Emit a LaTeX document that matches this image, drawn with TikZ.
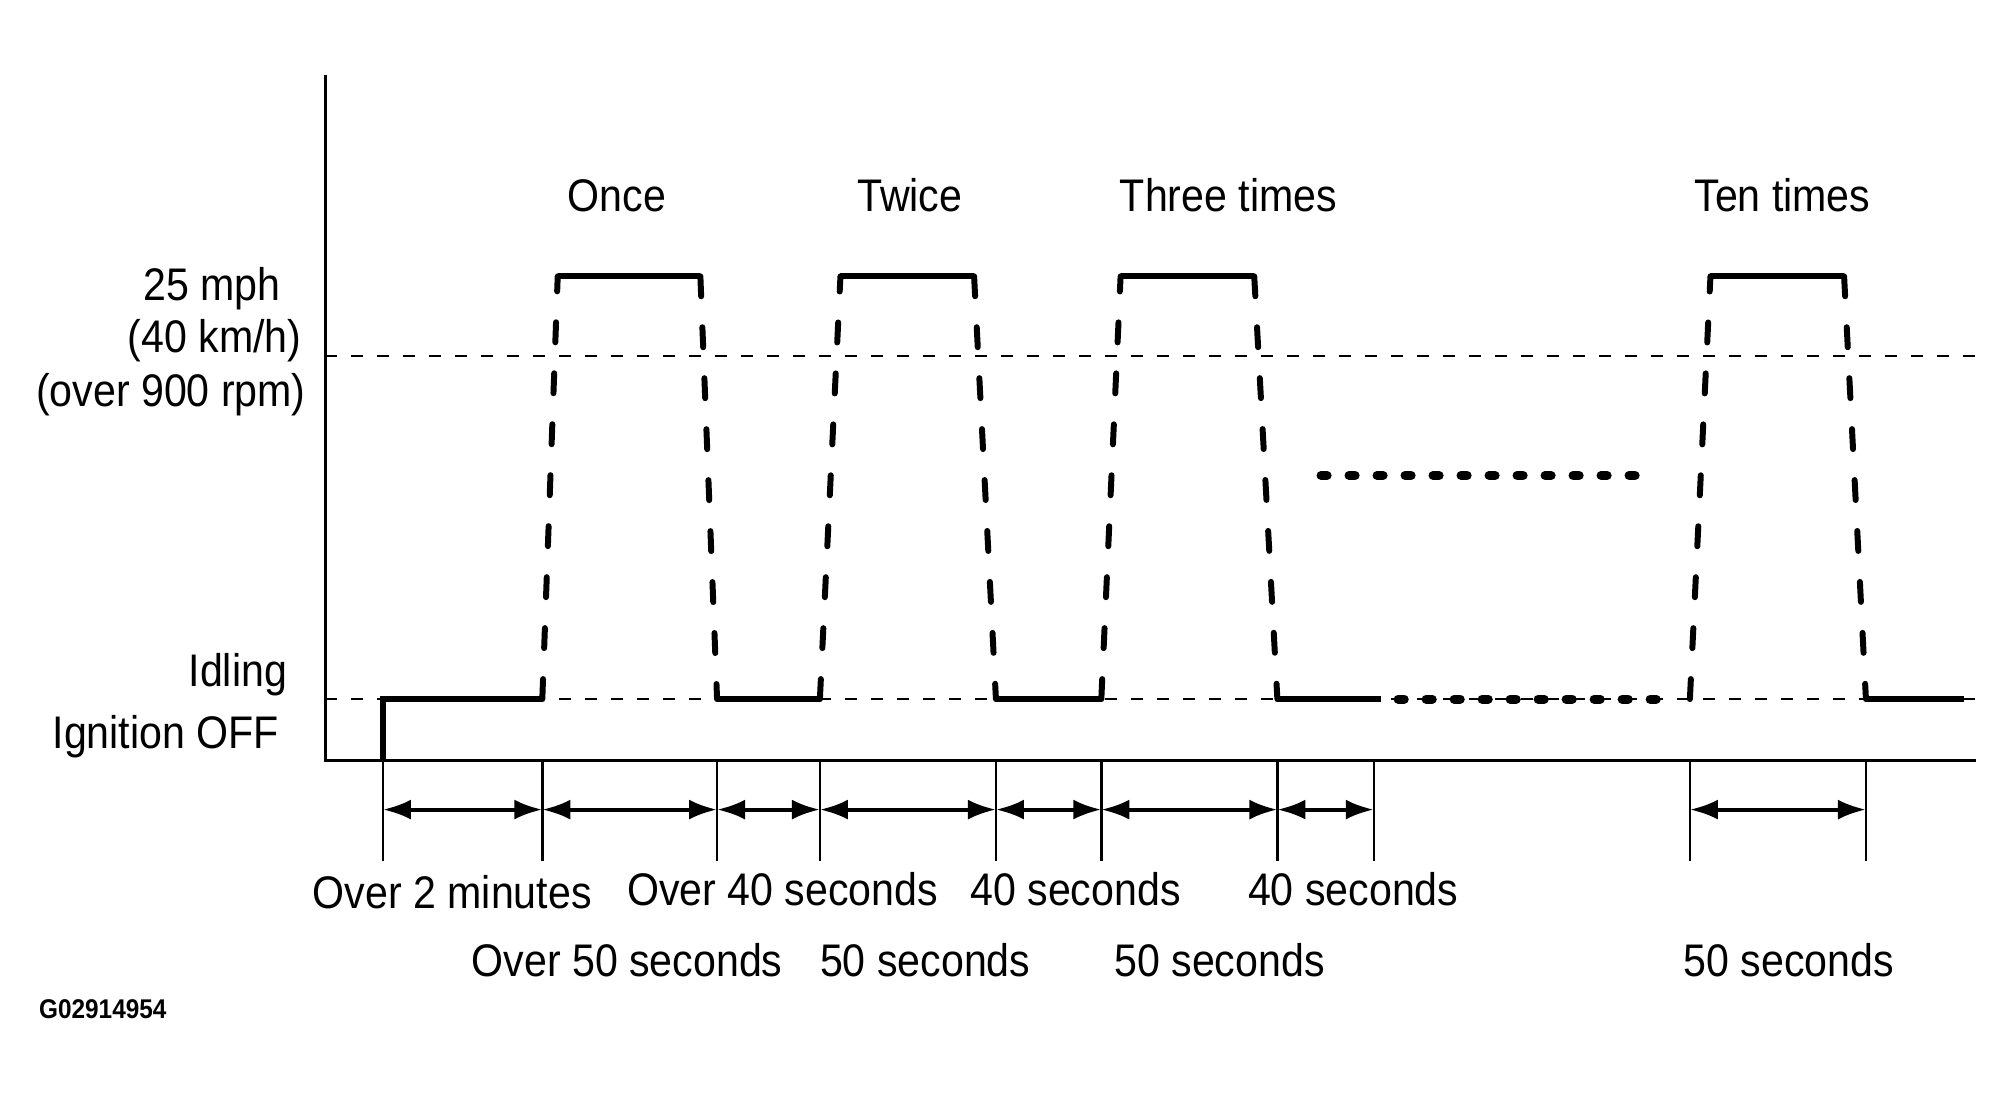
\documentclass[tikz,border=0pt]{standalone}
\usepackage{fontspec}
\setmainfont{Liberation Sans}[FakeStretch=0.9]
\usetikzlibrary{arrows.meta}

\begin{document}
\begin{tikzpicture}[x=0.1285mm,y=-0.1285mm]
\tikzstyle{axis}=[line width=0.8pt];
\tikzstyle{guide}=[line width=0.7pt,dash pattern=on 0.12cm off 0.14cm];
\tikzstyle{sig}=[line width=1.7pt];
\tikzstyle{ramp}=[line width=1.7pt,line cap=round,dash pattern=on 0.2cm off 0.31cm];
\tikzstyle{dots}=[line width=2.6pt,line cap=round,dash pattern=on 0.06cm off 0.22cm];
\tikzstyle{tick}=[line width=0.7pt];
\tikzstyle{dim}=[line width=1.1pt,{Latex[length=0.28cm,width=0.2cm]}-{Latex[length=0.28cm,width=0.2cm]}];
\tikzstyle{lbl}=[inner sep=0pt,font=\fontsize{13}{15}\selectfont];
\useasboundingbox (0,0) rectangle (1568,851);
% axes and guide levels
\coordinate (o) at (253,592);
\coordinate (top) at (253,58);
\coordinate (end) at (1538,592);
\draw [axis] (top) -- (o) -- (end);
\draw [guide] (253,277) -- (1538,277);
\draw [guide] (253,544) -- (1538,544);
% signal
\draw [sig] (298,592) -- (298,544) -- (422,544);
\foreach \a/\b/\c/\d in {422/434/545/558,638/654/758/775,857/872/976/994,1315/1331/1435/1452} {
  \draw [ramp] (\a,544) -- (\b,215);
  \draw [sig] (\b,215) -- (\c,215);
  \draw [ramp] (\c,215) -- (\d,544);
}
\draw [sig] (558,544) -- (638,544);
\draw [sig] (775,544) -- (857,544);
\draw [sig] (994,544) -- (1075,544);
\draw [sig] (1452,544) -- (1528,544);
\draw [dots] (1088,544) -- (1305,544);
\draw [dots] (1028,370) -- (1278,370);
% time marks
\foreach \x [count=\i] in {298,422,558,638,775,857,994,1069,1315,1452} {
  \draw [tick] (\x,592) -- (\x,670);
  \coordinate (k\i) at (\x,630);
}
\draw [dim] (k1) -- (k2);
\draw [dim] (k2) -- (k3);
\draw [dim] (k3) -- (k4);
\draw [dim] (k4) -- (k5);
\draw [dim] (k5) -- (k6);
\draw [dim] (k6) -- (k7);
\draw [dim] (k7) -- (k8);
\draw [dim] (k9) -- (k10);
% labels
\node [lbl] (n1) at (480,152) {Once};
\node [lbl] (n2) at (708,152) {Twice};
\node [lbl] (n3) at (956,152) {Three times};
\node [lbl] (n10) at (1387,152) {Ten times};
\node [lbl] (l1) at (165,225) {25 mph};
\node [lbl] (l2) at (167,265) {(40 km/h)};
\node [lbl] (l3) at (133,307) {(over 900 rpm)};
\node [lbl] (l4) at (185,525) {Idling};
\node [lbl] (l5) at (129,573) {Ignition OFF};
\node [lbl] (d1) at (352,694) {Over 2 minutes};
\node [lbl] (d2) at (609,692) {Over 40 seconds};
\node [lbl] (d3) at (837,692) {40 seconds};
\node [lbl] (d4) at (1053,692) {40 seconds};
\node [lbl] (e1) at (488,747) {Over 50 seconds};
\node [lbl] (e2) at (720,747) {50 seconds};
\node [lbl] (e3) at (949,747) {50 seconds};
\node [lbl] (e4) at (1392,747) {50 seconds};
\node [inner sep=0pt,font=\fontsize{7.7}{9}\selectfont\bfseries] (id) at (80,785) {G02914954};
\end{tikzpicture}
\end{document}
